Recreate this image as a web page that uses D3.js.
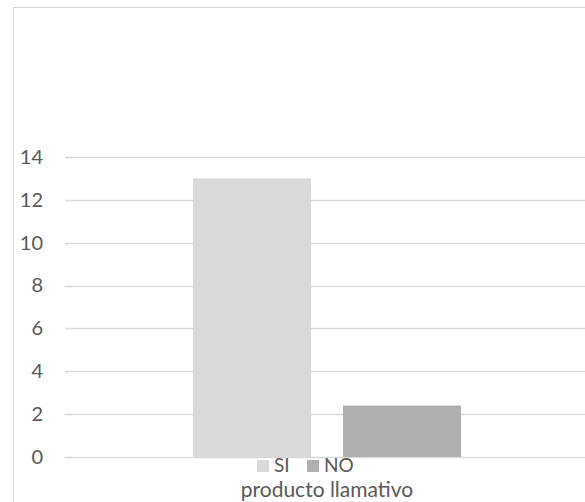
<!DOCTYPE html>
<html>
<head>
<meta charset="utf-8">
<script src="https://cdn.jsdelivr.net/npm/d3@7"></script>
<style>
  body { margin: 0; background: #fff; }
  svg { display: block; }
  text { font-family: Lato, "Open Sans", sans-serif; fill: #595959; }
</style>
</head>
<body>
<div id="chart"></div>
<script>
// data
var categories = ["producto llamativo"];
var series = ["SI", "NO"];
var values = [13, 2.4];
var seriesColors = ["#d9d9d9", "#afafaf"];
var yTicks = [0, 2, 4, 6, 8, 10, 12, 14];

var width = 585, height = 502;
var GRID_COLOR = '#d9d9d9';

var svg = d3.select("#chart").append("svg")
  .attr("width", width)
  .attr("height", height);

// chart frame (bottom and right cut off by window)
svg.append("rect")
  .attr("x", 13.5)
  .attr("y", 7.5)
  .attr("width", 590)
  .attr("height", 520)
  .attr("fill", "#fff")
  .style("stroke", GRID_COLOR);

var x0 = d3.scaleBand().domain(categories).range([65, 589]);
var x1 = d3.scaleBand().domain(series)
  .range([0, x0.bandwidth()])
  .paddingInner(32 / 150)
  .paddingOuter(0.853);
var y = d3.scaleLinear().domain([0, 14]).range([457, 157]);

// gridlines
svg.append("g")
  .selectAll("line")
  .data(yTicks)
  .enter()
  .append("line")
  .attr("x1", 65)
  .attr("x2", width)
  .attr("y1", function(d) { return Math.round(y(d)) + 0.5; })
  .attr("y2", function(d) { return Math.round(y(d)) + 0.5; })
  .attr("stroke-width", 1.5)
  .style("stroke", GRID_COLOR);

// y axis labels
var yAxis = d3.axisLeft(y).tickValues(yTicks).tickSize(0).tickPadding(0);
var gy = svg.append("g").attr("transform", "translate(43,0)").call(yAxis);
gy.select(".domain").remove();
gy.selectAll("text")
  .attr("font-size", "20px")
  .attr("fill", "#595959")
  .style("font-family", "Lato, 'Open Sans', sans-serif");

// bars
svg.append("g")
  .selectAll("rect")
  .data(series)
  .enter()
  .append("rect")
  .attr("x", function(d) { return x0(categories[0]) + x1(d); })
  .attr("width", x1.bandwidth())
  .attr("y", function(d, i) { return y(values[i]); })
  .attr("height", function(d, i) { return y(0) - y(values[i]); })
  .attr("fill", function(d, i) { return seriesColors[i]; });

// legend
var legend = svg.append("g")
  .selectAll("g")
  .data(series)
  .enter()
  .append("g")
  .attr("transform", function(d, i) { return "translate(" + (257 + i * 50) + ",460)"; });

legend.append("rect")
  .attr("width", 12)
  .attr("height", 12)
  .attr("fill", function(d, i) { return seriesColors[i]; });

legend.append("text")
  .attr("x", 17)
  .attr("y", 12)
  .attr("font-size", "19px")
  .text(function(d) { return d; });

// category label
svg.append("text")
  .attr("x", x0(categories[0]) + x0.bandwidth() / 2)
  .attr("y", 497)
  .attr("text-anchor", "middle")
  .attr("font-size", "21px")
  .text(categories[0]);
</script>
</body>
</html>
